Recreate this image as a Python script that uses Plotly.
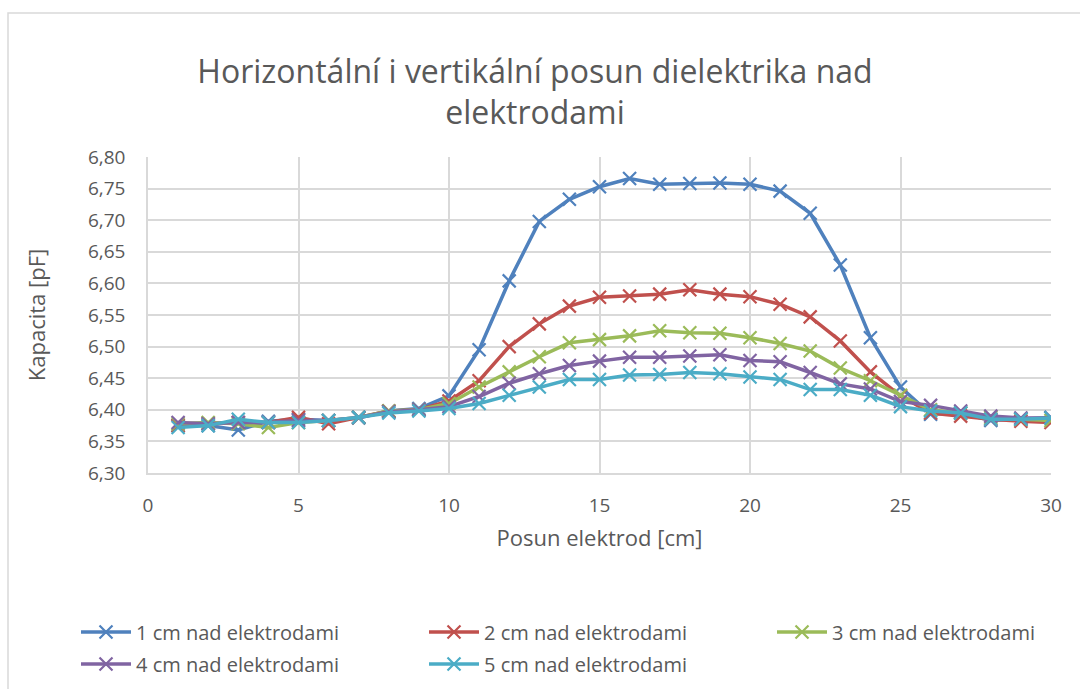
import plotly.graph_objects as go

# Horizontal position of the electrodes [cm]
posun = list(range(1, 31))

# Measured capacitance [pF] for each dielectric height above the electrodes
cm1 = [6.375, 6.375, 6.368, 6.382, 6.385, 6.383, 6.387, 6.398, 6.402, 6.422,
       6.495, 6.604, 6.698, 6.733, 6.753, 6.766, 6.757, 6.758, 6.759, 6.757,
       6.746, 6.711, 6.629, 6.514, 6.436, 6.393, 6.395, 6.383, 6.385, 6.388]
cm2 = [6.375, 6.378, 6.380, 6.380, 6.388, 6.378, 6.388, 6.398, 6.400, 6.414,
       6.446, 6.500, 6.536, 6.564, 6.578, 6.580, 6.583, 6.590, 6.583, 6.579,
       6.567, 6.547, 6.509, 6.460, 6.422, 6.395, 6.390, 6.385, 6.382, 6.380]
cm3 = [6.378, 6.380, 6.378, 6.372, 6.380, 6.383, 6.388, 6.398, 6.400, 6.410,
       6.436, 6.460, 6.484, 6.506, 6.511, 6.517, 6.525, 6.522, 6.521, 6.514,
       6.505, 6.493, 6.466, 6.446, 6.423, 6.400, 6.395, 6.388, 6.385, 6.383]
cm4 = [6.380, 6.378, 6.380, 6.380, 6.383, 6.383, 6.388, 6.397, 6.400, 6.405,
       6.421, 6.442, 6.457, 6.470, 6.477, 6.483, 6.483, 6.485, 6.487, 6.478,
       6.476, 6.459, 6.441, 6.433, 6.413, 6.407, 6.398, 6.390, 6.387, 6.387]
cm5 = [6.372, 6.375, 6.385, 6.380, 6.380, 6.383, 6.388, 6.395, 6.398, 6.402,
       6.410, 6.423, 6.436, 6.448, 6.448, 6.455, 6.456, 6.459, 6.457, 6.452,
       6.448, 6.432, 6.432, 6.423, 6.405, 6.398, 6.395, 6.385, 6.385, 6.387]

series_names = ["1 cm nad elektrodami", "2 cm nad elektrodami", "3 cm nad elektrodami",
                "4 cm nad elektrodami", "5 cm nad elektrodami"]
series_values = [cm1, cm2, cm3, cm4, cm5]
colors = ["#4F81BD", "#C0504D", "#9BBB59", "#8064A2", "#4BACC6"]
# first three entries on the upper legend row, the rest on the lower one
legend_rows = ["legend", "legend", "legend", "legend2", "legend2"]

TEXT = "#595959"
GRID = "#D9D9D9"
FONT = "Open Sans"

fig = go.Figure()
for name, vals, col, lg in zip(series_names, series_values, colors, legend_rows):
    fig.add_trace(go.Scatter(
        x=posun, y=vals, name=name, mode="lines+markers", legend=lg,
        line=dict(color=col, width=3.5),
        marker=dict(symbol="x-thin", size=13, color=col,
                    line=dict(color=col, width=2.2)),
    ))

# plot area in pixels: x 148..1051, y 157..473
L, R, T, B = 148, 29, 157, 216
W, H = 1080, 689
pw, ph = W - L - R, H - T - B


def px(x):
    return (x - L) / pw


def py(y):
    return (H - B - y) / ph


legend_style = dict(
    orientation="h", xanchor="left", yanchor="middle",
    entrywidth=283, entrywidthmode="pixels", itemwidth=50,
    font=dict(size=20, color=TEXT), bgcolor="rgba(0,0,0,0)",
)

fig.update_layout(
    width=W, height=H,
    margin=dict(l=L, r=R, t=T, b=B, autoexpand=False),
    paper_bgcolor="white", plot_bgcolor="white",
    separators=", ",
    font=dict(family=FONT, color=TEXT),
    title=dict(
        text="Horizontální i vertikální posun dielektrika nad<br>elektrodami",
        x=535 / W, xanchor="center", xref="container",
        y=1 - 82.5 / H, yanchor="middle", yref="container",
        font=dict(family=FONT, size=32, color=TEXT),
    ),
    xaxis=dict(
        range=[0, 30], dtick=5, tick0=0,
        showgrid=True, gridcolor=GRID, gridwidth=1.5,
        showline=True, linecolor=GRID, linewidth=1.5,
        zeroline=False, ticks="", ticklabelstandoff=14,
        tickfont=dict(size=19, color=TEXT),
        title=dict(text="Posun elektrod [cm]", font=dict(size=22, color=TEXT), standoff=14),
    ),
    yaxis=dict(
        range=[6.30, 6.80], dtick=0.05, tick0=6.30, tickformat=".2f",
        showgrid=True, gridcolor=GRID, gridwidth=1.5,
        showline=True, linecolor=GRID, linewidth=1.5,
        zeroline=False, ticks="", ticklabelstandoff=17,
        tickfont=dict(size=19, color=TEXT),
        title=dict(text="Kapacita [pF]", font=dict(size=22, color=TEXT), standoff=36),
    ),
    legend=dict(x=px(76), y=py(632), **legend_style),
    legend2=dict(x=px(76), y=py(664), **legend_style),
    shapes=[dict(
        type="rect", xref="paper", yref="paper", layer="below",
        x0=px(8), x1=px(1095), y0=py(705), y1=py(13),
        line=dict(color=GRID, width=1.5), fillcolor="rgba(0,0,0,0)",
    )],
)

fig.write_html("out.html")
